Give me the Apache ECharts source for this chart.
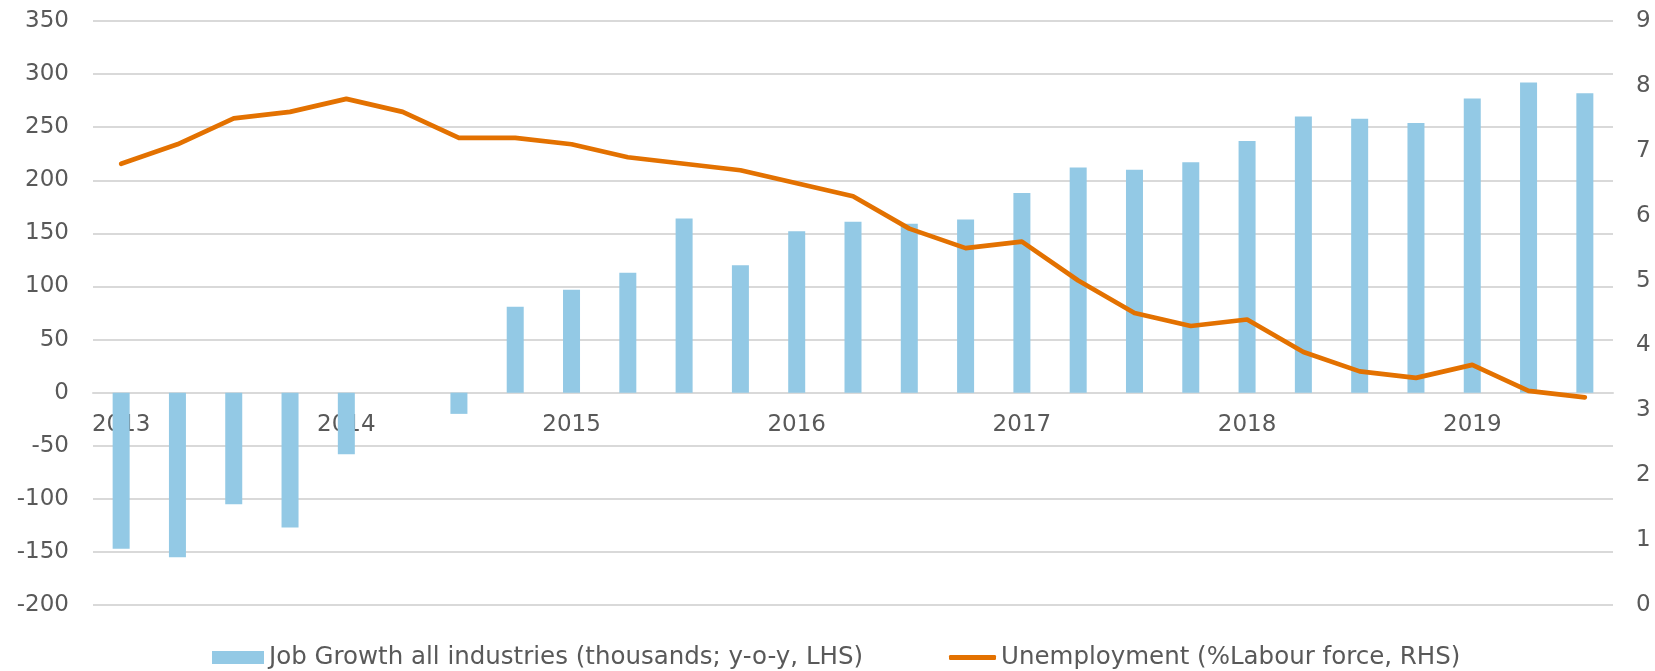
<!DOCTYPE html>
<html>
<head>
<meta charset="utf-8">
<title>Job growth and unemployment</title>
<script src="https://cdn.jsdelivr.net/npm/echarts@6/dist/echarts.min.js"></script>
<style>
  html, body { margin: 0; padding: 0; background: #fff; }
  #line-chart { width: 1655px; height: 671px; }
</style>
</head>
<body>
<div id="line-chart"></div>
<script>
// quarters 2013 Q1 - 2019 Q3
var quarters = [
  '2013 Q1', '2013 Q2', '2013 Q3', '2013 Q4',
  '2014 Q1', '2014 Q2', '2014 Q3', '2014 Q4',
  '2015 Q1', '2015 Q2', '2015 Q3', '2015 Q4',
  '2016 Q1', '2016 Q2', '2016 Q3', '2016 Q4',
  '2017 Q1', '2017 Q2', '2017 Q3', '2017 Q4',
  '2018 Q1', '2018 Q2', '2018 Q3', '2018 Q4',
  '2019 Q1', '2019 Q2', '2019 Q3'
];
// job growth, thousands y-o-y (LHS)
var jobGrowth = [
  -147, -155, -105, -127, -58, 0, -20, 81,
  97, 113, 164, 120, 152, 161, 159, 163,
  188, 212, 210, 217, 237, 260, 258, 254,
  277, 292, 282
];
// unemployment, % labour force (RHS)
var unemployment = [
  6.8, 7.1, 7.5, 7.6, 7.8, 7.6, 7.2, 7.2,
  7.1, 6.9, 6.8, 6.7, 6.5, 6.3, 5.8, 5.5,
  5.6, 5.0, 4.5, 4.3, 4.4, 3.9, 3.6, 3.5,
  3.7, 3.3, 3.2
];
var legendNames = ['Job Growth all industries (thousands; y-o-y, LHS)', 'Unemployment (%Labour force, RHS)'];
var barColor = '#93c9e5';
var lineColor = '#e37100';
var textColor = '#595959';
var gridColor = '#d9d9d9';
var fontName = '"DejaVu Sans", Verdana, sans-serif';

// left axis range, used to put the category axis on the zero line
var leftMin = -200, leftMax = 350;
var gridTop = 21, gridBottom = 66, chartH = 671;
var plotH = chartH - gridTop - gridBottom;
var zeroOffset = -plotH * (0 - leftMin) / (leftMax - leftMin);

var chartObj = echarts.init(document.getElementById('line-chart'));
var legendText = {
  fontSize: 24.5,
  color: textColor,
  fontFamily: fontName
};
var option = {
  animation: false,
  textStyle: { fontFamily: fontName },
  grid: {
    left: 93,
    right: 42,
    top: gridTop,
    bottom: gridBottom,
    containLabel: false
  },
  legend: [
    {
      data: [legendNames[0]],
      left: 207,
      top: 640,
      itemWidth: 52,
      itemHeight: 13,
      icon: 'rect',
      textStyle: legendText
    },
    {
      data: [legendNames[1]],
      left: 944,
      top: 640,
      itemWidth: 47,
      itemHeight: 5,
      icon: 'roundRect',
      textStyle: legendText
    }
  ],
  xAxis: {
    type: 'category',
    data: quarters,
    boundaryGap: true,
    offset: zeroOffset,
    axisLine: {
      show: true,
      onZero: false,
      lineStyle: { color: gridColor, width: 2 }
    },
    axisTick: { show: false },
    axisLabel: {
      interval: 3,
      margin: 21,
      fontSize: 23,
      color: textColor,
      formatter: function (val) {
        return val.slice(0, 4);
      }
    }
  },
  yAxis: [
    {
      type: 'value',
      min: leftMin,
      max: leftMax,
      interval: 50,
      axisLine: { show: false },
      axisTick: { show: false },
      axisLabel: {
        fontSize: 23,
        color: textColor,
        margin: 24
      },
      splitLine: {
        lineStyle: { color: gridColor, width: 2 }
      }
    },
    {
      type: 'value',
      min: 0,
      max: 9,
      interval: 1,
      axisLine: { show: false },
      axisTick: { show: false },
      axisLabel: {
        fontSize: 23,
        color: textColor,
        margin: 23
      },
      splitLine: { show: false }
    }
  ],
  series: [
    {
      name: legendNames[0],
      type: 'bar',
      data: jobGrowth,
      yAxisIndex: 0,
      barWidth: 17,
      itemStyle: { color: barColor }
    },
    {
      name: legendNames[1],
      type: 'line',
      data: unemployment,
      yAxisIndex: 1,
      symbol: 'none',
      smooth: false,
      z: 5,
      itemStyle: { color: lineColor },
      lineStyle: { color: lineColor, width: 4.7, cap: 'round', join: 'round' }
    }
  ]
};
chartObj.setOption(option);
</script>
</body>
</html>
